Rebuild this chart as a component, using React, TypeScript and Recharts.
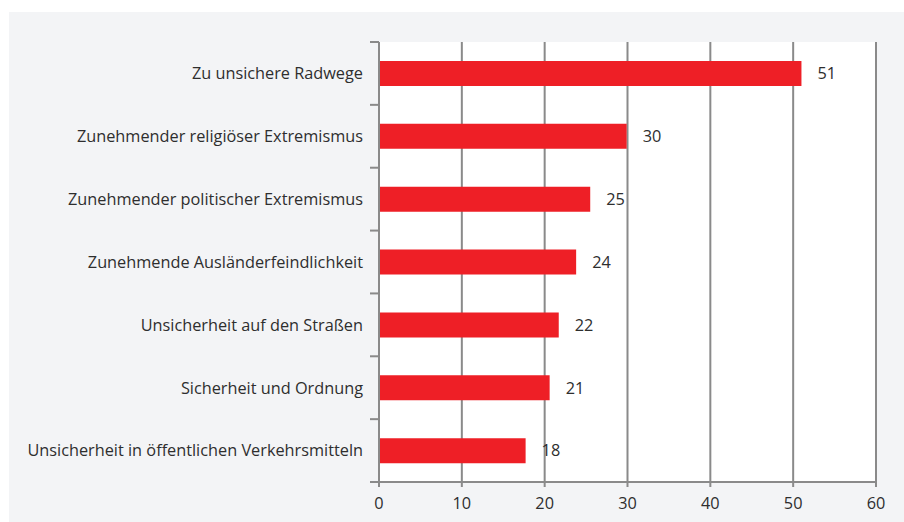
import React from "react";
import { BarChart, Bar, XAxis, YAxis, CartesianGrid, LabelList } from "recharts";

const categories = [
  "Zu unsichere Radwege",
  "Zunehmender religiöser Extremismus",
  "Zunehmender politischer Extremismus",
  "Zunehmende Ausländerfeindlichkeit",
  "Unsicherheit auf den Straßen",
  "Sicherheit und Ordnung",
  "Unsicherheit in öffentlichen Verkehrsmitteln",
];
const values = [51.0, 29.9, 25.5, 23.8, 21.7, 20.6, 17.7];
const labels = [51, 30, 25, 24, 22, 21, 18];
const xTicks = [0, 10, 20, 30, 40, 50, 60];

const W = 904;
const H = 522;
const MARGIN = { top: 42, right: 28, bottom: 0, left: 0 };
const Y_AXIS_W = 379;
const X_AXIS_H = 40;
const BAND = (H - MARGIN.top - MARGIN.bottom - X_AXIS_H) / categories.length;

const FONT = "'Open Sans', 'Noto Sans', sans-serif";
const FS = 16.3;
const TEXT = "#2e2e2e";
const GRID = "#8a8a8a";
const RED = "#ee1f26";

const data = categories.map((name, i) => ({ name, value: values[i], label: labels[i] }));

// category label + the boundary tick marks (ticks sit between bands, not at centers)
function CategoryTick(props: any) {
  const { x, y, payload, index } = props;
  const ax = MARGIN.left + Y_AXIS_W;
  return (
    <g>
      <line x1={ax - 9} x2={ax} y1={y - BAND / 2} y2={y - BAND / 2} stroke={GRID} strokeWidth={2} />
      {index === categories.length - 1 && (
        <line x1={ax - 9} x2={ax} y1={y + BAND / 2} y2={y + BAND / 2} stroke={GRID} strokeWidth={2} />
      )}
      <text x={x} y={y} dy="0.36em" textAnchor="end" fill={TEXT} fontSize={FS} fontFamily={FONT}>
        {payload.value}
      </text>
    </g>
  );
}

export default function App() {
  return (
    <div style={{ position: "absolute", left: 0, top: 0, width: W, height: H, background: "#fff" }}>
      <div style={{ position: "absolute", left: 9, top: 12, width: W - 9, height: H - 12, background: "#f3f4f6" }} />
      <div style={{ position: "absolute", left: 0, top: 0 }}>
        <BarChart width={W} height={H} data={data} layout="vertical" margin={MARGIN} barSize={25}>
          <CartesianGrid horizontal={false} stroke={GRID} strokeWidth={2} fill="#fff" />
          <XAxis
            type="number"
            domain={[0, 60]}
            ticks={xTicks}
            height={X_AXIS_H}
            axisLine={{ stroke: GRID, strokeWidth: 2 }}
            tickLine={{ stroke: GRID, strokeWidth: 2 }}
            tickSize={5}
            tickMargin={10}
            tick={{ fill: TEXT, fontSize: FS, fontFamily: FONT }}
          />
          <YAxis
            type="category"
            dataKey="name"
            width={Y_AXIS_W}
            axisLine={{ stroke: GRID, strokeWidth: 2 }}
            tickLine={false}
            tickSize={9}
            tickMargin={7}
            interval={0}
            tick={<CategoryTick />}
          />
          <Bar dataKey="value" fill={RED} isAnimationActive={false}>
            <LabelList
              dataKey="label"
              position="right"
              offset={16}
              fill={TEXT}
              fontSize={FS}
              fontFamily={FONT}
            />
          </Bar>
        </BarChart>
      </div>
    </div>
  );
}
